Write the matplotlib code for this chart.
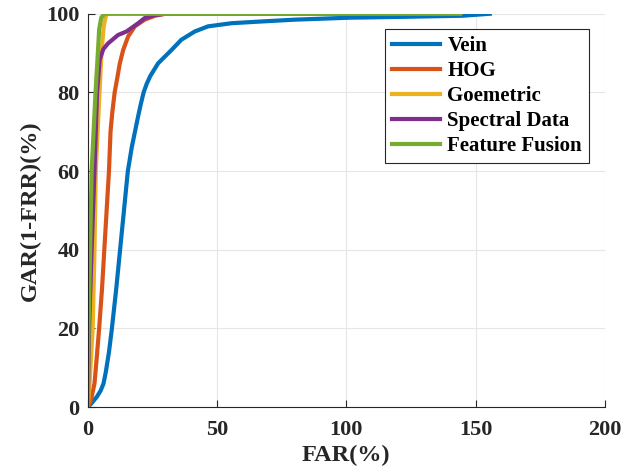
import matplotlib.pyplot as plt

# FAR(%) / GAR(%) points
vein_far = [0, 1.5, 3.5, 5, 6.1, 7, 8.2, 9.3, 11, 12.5, 14, 15.5, 17, 19.5, 20.5, 21.6,
            22.8, 24.2, 27.2, 32.4, 36.2, 41.4, 46.5, 55.6, 66, 80, 101, 120, 145, 155.5]
vein_gar = [0, 1, 2.6, 4.2, 6, 9, 14, 19.8, 30, 40, 50, 60, 66, 74, 77, 80,
            82.2, 84.2, 87.4, 90.8, 93.4, 95.5, 96.8, 97.6, 98, 98.5, 99, 99.2, 99.5, 100]

hog_far = [0, 0.8, 1.5, 2.6, 3.4, 4.4, 5.5, 6.4, 7.3, 8.2, 8.8, 9.5, 10.4, 11.5,
           12.4, 13.7, 15.6, 18.2, 22, 26, 30, 144]
hog_gar = [0, 1, 2.6, 6, 12, 20, 30, 40, 50, 60, 70, 75, 80, 84,
           87.4, 90.8, 94.2, 96.8, 98.5, 99.5, 100, 100]

geo_far = [0, 0.6, 1.9, 2.6, 3.1, 4.4, 5.3, 6.2, 7.2, 144]
geo_gar = [0, 5, 20, 40, 60, 78, 90, 97, 100, 100]

spec_far = [0, 0.5, 1.5, 2.6, 3.6, 4.6, 6, 7.9, 11.7, 15, 19.5, 22, 26, 30, 144]
spec_gar = [0, 20, 40, 60, 80, 88.3, 91, 92.5, 94.6, 95.5, 97.6, 98.9, 99.7, 100, 100]

fus_far = [0, 0.3, 0.9, 1.5, 2.4, 3, 3.9, 4.4, 5.2, 6.5, 144]
fus_gar = [0, 20, 40, 60, 72, 80, 90, 96, 99, 100, 100]

labels = ['Vein', 'HOG', 'Goemetric', 'Spectral Data', 'Feature Fusion']
colors = ['#0072BD', '#D95319', '#EDB120', '#7E2F8E', '#77AC30']

plt.rcParams['font.family'] = ['Liberation Serif', 'DejaVu Serif']
plt.rcParams['font.weight'] = 'bold'

fig = plt.figure(figsize=(6.36, 4.75), dpi=100)
ax = fig.add_axes([0.138, 0.143, 0.813, 0.828])

series = [(vein_far, vein_gar), (hog_far, hog_gar), (geo_far, geo_gar),
          (spec_far, spec_gar), (fus_far, fus_gar)]
for (x, y), lab, c in zip(series, labels, colors):
    ax.plot(x, y, color=c, lw=3, label=lab, solid_joinstyle='round')

ax.set_xlim(0, 200)
ax.set_ylim(0, 100)
ax.set_xticks([0, 50, 100, 150, 200])
ax.set_yticks([0, 20, 40, 60, 80, 100])
ax.grid(True, color='#e6e6e6', lw=0.8)
ax.set_axisbelow(True)
ax.spines['top'].set_visible(False)
ax.spines['right'].set_visible(False)
for s in ['left', 'bottom']:
    ax.spines[s].set_color('#262626')
ax.tick_params(direction='in', length=5, colors='#262626', labelsize=16)
ax.tick_params(axis='x', pad=9)
ax.tick_params(axis='y', pad=6)
for t in ax.get_xticklabels() + ax.get_yticklabels():
    t.set_fontweight('bold')

ax.set_xlabel('FAR(%)', fontsize=17.5, fontweight='bold', color='#262626', labelpad=4)
ax.set_ylabel('GAR(1-FRR)(%)', fontsize=17.5, fontweight='bold', color='#262626', labelpad=4)

leg = ax.legend(loc='upper right', bbox_to_anchor=(0.97, 0.962),
                prop={'weight': 'bold', 'size': 15}, fancybox=False, framealpha=1,
                edgecolor='#262626', handlelength=2.3, borderpad=0.35,
                labelspacing=0.24, handletextpad=0.35, borderaxespad=0)
leg.get_frame().set_linewidth(0.8)

fig.savefig('out.png', dpi=100)
